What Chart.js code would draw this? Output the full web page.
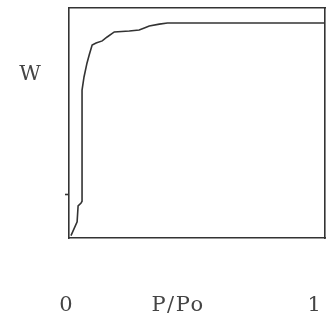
<!DOCTYPE html>
<html>
<head>
<meta charset="utf-8">
<script src="https://cdn.jsdelivr.net/npm/chart.js@4/dist/chart.umd.min.js"></script>
<style>
  html, body { margin: 0; padding: 0; background: #fff; }
  #wrap { width: 328px; height: 326px; }
</style>
</head>
<body>
<div id="wrap"><canvas id="isotherm"></canvas></div>
<script>
// Isotherm curve: relative pressure P/Po vs adsorbed amount W (relative units)
const pressure = [0.008, 0.033, 0.037, 0.049, 0.053, 0.053, 0.053, 0.061, 0.073, 0.082, 0.094, 0.110, 0.135, 0.155, 0.184, 0.245, 0.285, 0.306, 0.326, 0.367, 0.400, 1.04];
const amount   = [0.010, 0.070, 0.140, 0.152, 0.160, 0.383, 0.643, 0.700, 0.760, 0.796, 0.839, 0.848, 0.857, 0.874, 0.896, 0.900, 0.904, 0.913, 0.922, 0.930, 0.935, 0.935];
const xTicks = [0, 1];
const xTickLabels = ['0', '1'];
const yMarks = [0.187];

const ink = '#333';
const textInk = '#444';
const serif = '"DejaVu Serif", "Liberation Serif", serif';

// axis labels sit far below the box in the scanned figure, so draw them here
const axisLabels = {
  id: 'axisLabels',
  afterDraw(chart) {
    const ctx = chart.ctx;
    const x = chart.scales.x;
    ctx.save();
    ctx.fillStyle = textInk;
    ctx.font = '21px ' + serif;
    ctx.textAlign = 'center';
    ctx.textBaseline = 'middle';
    ctx.fillText('W', 30, 75);
    ctx.letterSpacing = '1.5px';
    ctx.fillText('P/Po', 178, 306);
    ctx.letterSpacing = '0px';
    xTicks.forEach((v, i) => {
      ctx.fillText(xTickLabels[i], x.getPixelForValue(v) - (i === 0 ? 3 : 1), 306);
    });
    ctx.restore();
  }
};

new Chart(document.getElementById('isotherm').getContext('2d'), {
  type: 'line',
  data: {
    datasets: [{
      data: pressure.map((p, i) => ({ x: p, y: amount[i] })),
      borderColor: ink,
      borderWidth: 1.6,
      pointRadius: 0,
      tension: 0,
      fill: false
    }]
  },
  options: {
    responsive: true,
    maintainAspectRatio: false,
    animation: false,
    layout: { padding: { left: 65, right: 3, top: 8, bottom: 88 } },
    plugins: { legend: { display: false }, tooltip: { enabled: false } },
    scales: {
      x: {
        type: 'linear',
        min: 0,
        max: 1.04,
        afterBuildTicks: axis => { axis.ticks = xTicks.map(v => ({ value: v })); },
        ticks: { display: false },
        grid: { display: false, drawTicks: false },
        border: { display: true, color: ink, width: 1.6 }
      },
      y: {
        min: 0,
        max: 1,
        afterBuildTicks: axis => { axis.ticks = yMarks.map(v => ({ value: v })); },
        ticks: { display: false },
        grid: { drawOnChartArea: false, drawTicks: true, tickLength: 4, tickWidth: 1.6, tickColor: ink },
        border: { display: true, color: ink, width: 1.6 }
      },
      x2: {
        type: 'linear',
        position: 'top',
        min: 0,
        max: 1,
        ticks: { display: false },
        grid: { display: false, drawTicks: false },
        border: { display: true, color: ink, width: 1.6 }
      },
      y2: {
        type: 'linear',
        position: 'right',
        min: 0,
        max: 1,
        ticks: { display: false },
        grid: { display: false, drawTicks: false },
        border: { display: true, color: ink, width: 1.6 }
      }
    }
  },
  plugins: [axisLabels]
});
</script>
</body>
</html>
